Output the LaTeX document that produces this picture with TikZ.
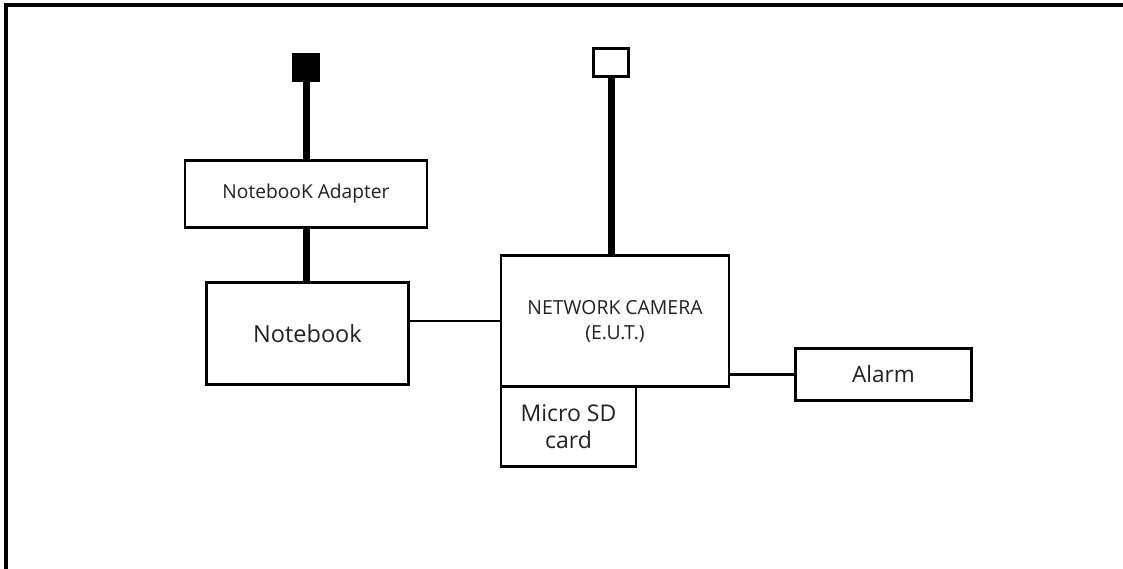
\documentclass[tikz,border=0pt]{standalone}
\usepackage{fontspec}
\setmainfont{Open Sans}
\usetikzlibrary{positioning, calc}
\definecolor{cText}{HTML}{222222}
\tikzset{
  box/.style={draw=black, line width=2.4pt, fill=white, inner sep=0pt,
    outer sep=0pt, align=center, text=cText},
  plug/.style={draw=black, line width=2.4pt, inner sep=0pt, outer sep=0pt},
  cable/.style={line width=7pt, draw=black},
  wire/.style={line width=2.4pt, draw=black},
}

\begin{document}
\begin{tikzpicture}[x=1pt, y=-1pt]
  \useasboundingbox (0,0) rectangle (1123,569);

  % ----------------------------------------------------------------
  % Frame
  % ----------------------------------------------------------------
  \coordinate (frameTR) at (1123,5);
  \coordinate (frameTL) at (6,5);
  \coordinate (frameBL) at (6,569);
  \draw[line width=3.2pt] (frameTR) -- (frameTL) -- (frameBL);

  % ----------------------------------------------------------------
  % Notebook side
  % ----------------------------------------------------------------
  \node[plug, fill=black, minimum width=26pt, minimum height=26pt] (acplug) at (306,67.5) {};
  \node[box, minimum width=242pt, minimum height=67pt, font=\fontsize{19.2}{22}\selectfont]
    (adapter) at (306,194) {NotebooK Adapter};
  \node[box, minimum width=202pt, minimum height=102pt, font=\fontsize{23.5}{26}\selectfont]
    (notebook) at (307.5,333.5) {Notebook};

  \draw[cable] (acplug.south) -- (adapter.north);
  \draw[cable] (adapter.south) -- (adapter.south |- notebook.north);

  % ----------------------------------------------------------------
  % Camera side
  % ----------------------------------------------------------------
  \node[plug, fill=white, minimum width=35pt, minimum height=28pt] (poeplug) at (611,62.5) {};
  \node[box, minimum width=228pt, minimum height=131pt, font=\fontsize{19.4}{25}\selectfont]
    (camera) at (615,321) {NETWORK CAMERA\\(E.U.T.)};
  \node[box, minimum width=135pt, minimum height=80pt, font=\fontsize{23}{27}\selectfont,
    anchor=north west] (sdcard) at (camera.south west) {Micro SD\\card};
  \node[box, minimum width=176pt, minimum height=52pt, font=\fontsize{22.5}{25}\selectfont]
    (alarm) at (883.5,374.5) {Alarm};

  \draw[cable] (poeplug.south) -- (poeplug.south |- camera.north);
  \draw[wire] (camera.west) -- (camera.west -| notebook.east);
  \draw[wire] (alarm.west) -- (alarm.west -| camera.east);

\end{tikzpicture}
\end{document}
